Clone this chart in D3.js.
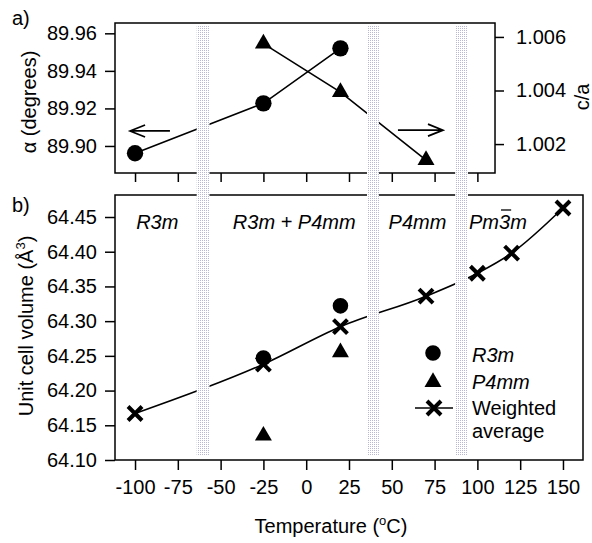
<!DOCTYPE html>
<html>
<head>
<meta charset="utf-8">
<script src="https://cdn.jsdelivr.net/npm/d3@7"></script>
<style>
  body { margin: 0; background: #fff; }
  svg { display: block; font-family: "Liberation Sans", Arial, sans-serif; }
</style>
</head>
<body>
<svg id="chart" width="592" height="543"></svg>
<script>
// panel a) alpha (left axis) and c/a (right axis)
const alphaT = [-100, -25, 20];
const alphaV = [89.8961, 89.9227, 89.952];
const caT = [-25, 20, 70];
const caV = [1.00575, 1.00394, 1.0014];
const alphaTicks = [89.90, 89.92, 89.94, 89.96];
const caTicks = [1.002, 1.004, 1.006];

// panel b) unit cell volume
const r3mT = [-25, 20];
const r3mV = [64.247, 64.322];
const p4mmT = [-25, 20];
const p4mmV = [64.135, 64.255];
const avgT = [-100, -25, 20, 70, 100, 120, 150];
const avgV = [64.167, 64.238, 64.292, 64.336, 64.369, 64.398, 64.463];
const volTicks = [64.10, 64.15, 64.20, 64.25, 64.30, 64.35, 64.40, 64.45];
const tempTicksTop = [-100, -75, -50, -25, 0, 25, 50, 75, 100];
const tempTicks = [-100, -75, -50, -25, 0, 25, 50, 75, 100, 125, 150];

// phase boundaries (shaded bands), degC
const bands = [[-64, -56.5], [35.5, 42.5], [87, 94.5]];
const phases = [
  { t: -87, label: "R3m" },
  { t: -7, label: "R3m + P4mm" },
  { t: 65, label: "P4mm" },
  { t: 112, label: "Pm3m" }
];

const svg = d3.select("#chart");
const FONT = 20;

const x = d3.scaleLinear().domain([-111.7, 161.7]).range([115, 583]);
const xTopMax = 110.3;

// top panel scales
const aTop = 23, aBot = 173;
const yA = d3.scaleLinear().domain([89.8856, 89.9655]).range([aBot, aTop]);
const yC = d3.scaleLinear().domain([1.00092, 1.00652]).range([aBot, aTop]);

// bottom panel scale
const bTop = 195, bBot = 460;
const yV = d3.scaleLinear().domain([64.10, 64.4817]).range([bBot, bTop]);

// dotted pattern for bands
const defs = svg.append("defs");
const pat = defs.append("pattern").attr("id", "dots")
  .attr("width", 2).attr("height", 2).attr("patternUnits", "userSpaceOnUse");
pat.append("rect").attr("width", 2).attr("height", 2).attr("fill", "#ffffff");
pat.append("rect").attr("width", 1).attr("height", 1).attr("fill", "#b8b8d4")
  .attr("shape-rendering", "crispEdges");

const blk = "#000";
const styleAxis = (ax) => {
  ax.select(".domain").remove();
  ax.selectAll(".tick line").attr("stroke", blk).attr("stroke-width", 1.5);
  ax.selectAll(".tick text").style("font-size", FONT + "px").attr("fill", blk);
};

// ---- panel a) ----
svg.append("rect")
  .attr("x", x(-111.7)).attr("y", aTop)
  .attr("width", x(xTopMax) - x(-111.7)).attr("height", aBot - aTop)
  .attr("fill", "none").attr("stroke", blk).attr("stroke-width", 1.5);

svg.append("g").attr("transform", `translate(${x(-111.7)},0)`)
  .call(d3.axisLeft(yA).tickValues(alphaTicks).tickFormat(d3.format(".2f")).tickSize(10).tickPadding(8))
  .call(styleAxis);

svg.append("g").attr("transform", `translate(${x(xTopMax)},0)`)
  .call(d3.axisRight(yC).tickValues(caTicks).tickFormat(d3.format(".3f")).tickSize(9).tickPadding(12))
  .call(styleAxis);

svg.append("g").attr("transform", `translate(0,${aBot})`)
  .call(d3.axisBottom(x).tickValues(tempTicksTop).tickFormat("").tickSize(9))
  .call(styleAxis);

const alphaPts = alphaT.map((t, i) => ({ t, v: alphaV[i] }));
const caPts = caT.map((t, i) => ({ t, v: caV[i] }));

svg.append("path").datum(alphaPts)
  .attr("fill", "none").attr("stroke", blk).attr("stroke-width", 1.6)
  .attr("d", d3.line().x(d => x(d.t)).y(d => yA(d.v)));
svg.append("path").datum(caPts)
  .attr("fill", "none").attr("stroke", blk).attr("stroke-width", 1.6)
  .attr("d", d3.line().x(d => x(d.t)).y(d => yC(d.v)));

const circ = d3.symbol().type(d3.symbolCircle);
const tri = d3.symbol().type(d3.symbolTriangle);
const cross = s => `M${-s},${-s}L${s},${s}M${-s},${s}L${s},${-s}`;

svg.selectAll(".acirc").data(alphaPts).join("path")
  .attr("transform", d => `translate(${x(d.t)},${yA(d.v)})`)
  .attr("d", circ.size(210)).attr("fill", blk);
svg.selectAll(".ctri").data(caPts).join("path")
  .attr("transform", d => `translate(${x(d.t)},${yC(d.v)})`)
  .attr("d", tri.size(125)).attr("fill", blk);

// arrows
function arrow(x1, x2, y) {
  const dir = Math.sign(x2 - x1);
  svg.append("path")
    .attr("d", `M${x1},${y}L${x2},${y}M${x2 - dir * 15},${y - 6}L${x2},${y}L${x2 - dir * 15},${y + 6}`)
    .attr("fill", "none").attr("stroke", blk).attr("stroke-width", 1.7);
}
arrow(x(-79.6), x(-102.9), yA(89.908));
arrow(x(53.6), x(79.9), yC(1.00252));

// ---- panel b) ----
svg.append("rect")
  .attr("x", x(-111.7)).attr("y", bTop)
  .attr("width", x(161.7) - x(-111.7)).attr("height", bBot - bTop)
  .attr("fill", "none").attr("stroke", blk).attr("stroke-width", 1.5);

svg.append("g").attr("transform", `translate(${x(-111.7)},0)`)
  .call(d3.axisLeft(yV).tickValues(volTicks).tickFormat(d3.format(".2f")).tickSize(10).tickPadding(8))
  .call(styleAxis);

svg.append("g").attr("transform", `translate(0,${bBot})`)
  .call(d3.axisBottom(x).tickValues(tempTicks).tickFormat(d => String(d)).tickSize(10).tickPadding(10))
  .call(styleAxis);

const avgPts = avgT.map((t, i) => ({ t, v: avgV[i] }));
svg.append("path").datum(avgPts)
  .attr("fill", "none").attr("stroke", blk).attr("stroke-width", 1.6)
  .attr("d", d3.line().x(d => x(d.t)).y(d => yV(d.v)).curve(d3.curveMonotoneX));

svg.selectAll(".vcirc").data(r3mT.map((t, i) => ({ t, v: r3mV[i] }))).join("path")
  .attr("transform", d => `translate(${x(d.t)},${yV(d.v)})`)
  .attr("d", circ.size(190)).attr("fill", blk);
svg.selectAll(".vtri").data(p4mmT.map((t, i) => ({ t, v: p4mmV[i] }))).join("path")
  .attr("transform", d => `translate(${x(d.t)},${yV(d.v)})`)
  .attr("d", tri.size(125)).attr("fill", blk);
svg.selectAll(".vx").data(avgPts).join("path")
  .attr("transform", d => `translate(${x(d.t)},${yV(d.v)})`)
  .attr("d", cross(7)).attr("stroke", blk).attr("stroke-width", 4).attr("fill", "none");

// legend
const lg = svg.append("g");
lg.append("path").attr("transform", "translate(433,353)").attr("d", circ.size(190)).attr("fill", blk);
lg.append("path").attr("transform", "translate(433,382)").attr("d", tri.size(125)).attr("fill", blk);
lg.append("line").attr("x1", 415).attr("x2", 453).attr("y1", 408).attr("y2", 408)
  .attr("stroke", blk).attr("stroke-width", 1.6);
lg.append("path").attr("transform", "translate(434,408)").attr("d", cross(7))
  .attr("stroke", blk).attr("stroke-width", 4);
const legText = [
  { y: 362, t: "R3m", it: true },
  { y: 389, t: "P4mm", it: true },
  { y: 415, t: "Weighted", it: false },
  { y: 438, t: "average", it: false }
];
lg.selectAll("text").data(legText).join("text")
  .attr("x", 472).attr("y", d => d.y)
  .style("font-size", FONT + "px").style("font-style", d => d.it ? "italic" : "normal")
  .text(d => d.t);

// phase labels
phases.forEach(p => {
  const t = svg.append("text").attr("x", x(p.t)).attr("y", 229)
    .attr("text-anchor", "middle").style("font-size", FONT + "px").style("font-style", "italic")
    .text(p.label);
  if (p.label === "Pm3m") {
    const b = t.node().getExtentOfChar(2);
    svg.append("line").attr("x1", b.x + 2).attr("x2", b.x + b.width + 1)
      .attr("y1", b.y - 1).attr("y2", b.y - 1).attr("stroke", blk).attr("stroke-width", 1.3);
  }
});

// shaded bands on top
svg.selectAll(".band").data(bands).join("rect")
  .attr("x", d => x(d[0])).attr("width", d => x(d[1]) - x(d[0]))
  .attr("y", aTop + 2).attr("height", bBot - 4 - aTop - 2)
  .attr("fill", "url(#dots)");

// axis titles and panel letters
svg.append("text").attr("x", 12).attr("y", 25).style("font-size", FONT + "px").text("a)");
svg.append("text").attr("x", 12).attr("y", 212).style("font-size", FONT + "px").text("b)");

svg.append("text").attr("transform", `translate(36,${(aTop + aBot) / 2 + 4}) rotate(-90)`)
  .attr("text-anchor", "middle").style("font-size", FONT + "px").text("α (degrees)");
svg.append("text").attr("transform", `translate(589,97) rotate(-90)`)
  .attr("text-anchor", "middle").style("font-size", FONT + "px").text("c/a");

const vt = svg.append("text").attr("transform", `translate(33,326) rotate(-90)`)
  .attr("text-anchor", "middle").style("font-size", FONT + "px");
vt.append("tspan").text("Unit cell volume (Å");
vt.append("tspan").attr("dy", -8).style("font-size", "13px").text("3");
vt.append("tspan").attr("dy", 8).text(")");

const tt = svg.append("text").attr("x", 331).attr("y", 533)
  .attr("text-anchor", "middle").style("font-size", FONT + "px");
tt.append("tspan").text("Temperature (");
tt.append("tspan").attr("dy", -8).style("font-size", "13px").text("o");
tt.append("tspan").attr("dy", 8).text("C)");
</script>
</body>
</html>
